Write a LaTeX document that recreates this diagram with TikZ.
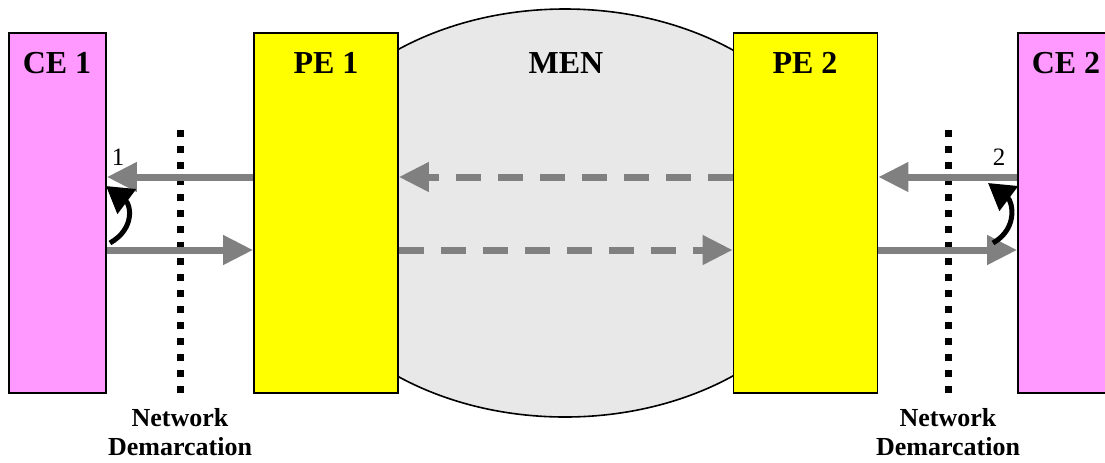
\documentclass[tikz,border=0pt]{standalone}
\usepackage{fontspec}
\setmainfont{Liberation Serif}
\usetikzlibrary{arrows.meta,shapes.geometric}
\definecolor{cepink}{HTML}{FF99FF}
\definecolor{peyellow}{HTML}{FFFF00}
\definecolor{mengray}{HTML}{E8E8E8}
\definecolor{flowgray}{HTML}{808080}
\begin{document}
\begin{tikzpicture}[x=0.5pt,y=-0.5pt,
		cebox/.style={draw,line width=0.8pt,fill=cepink,minimum width=48.5pt,minimum height=180pt,inner sep=0pt},
		pebox/.style={draw,line width=0.8pt,fill=peyellow,minimum width=72pt,minimum height=180pt,inner sep=0pt},
		title/.style={font=\fontsize{16}{19}\selectfont\bfseries,inner sep=0pt},
		demlabel/.style={font=\fontsize{13}{14.5}\selectfont\bfseries,align=center,inner sep=0pt},
		numlabel/.style={font=\fontsize{12.5}{14}\selectfont,inner sep=0pt},
		flow/.style={draw=flowgray,line width=3.5pt,-{Triangle[length=15pt,width=14pt,color=flowgray]}},
		dflow/.style={flow,dash pattern=on 12.5pt off 8.5pt},
		turn/.style={draw=black,line width=2.5pt,-{Triangle[length=13pt,width=15pt]}},
		demline/.style={line width=3.5pt,dash pattern=on 3.5pt off 4.5pt}]
	\clip (0,0) rectangle (1105,462);
	\useasboundingbox (0,0) rectangle (1105,462);
	% cloud
	\node[draw,line width=0.8pt,fill=mengray,ellipse,minimum width=279pt,minimum height=204pt,inner sep=0pt] (men) at (565,213) {};
	% boxes
	\node[cebox] (ce1) at (57.5,213) {};
	\node[pebox] (pe1) at (326,213) {};
	\node[pebox] (pe2) at (805.5,213) {};
	\node[cebox] (ce2) at (1066.5,213) {};
	\node[title] (ce1t) at (57,63) {CE 1};
	\node[title] (pe1t) at (326,63) {PE 1};
	\node[title] (ment) at (566,63) {MEN};
	\node[title] (pe2t) at (805,63) {PE 2};
	\node[title] (ce2t) at (1066,63) {CE 2};
	% rows of the flows
	\coordinate (up) at (0,177);
	\coordinate (dn) at (0,250);
	% demarcation
	\coordinate (dm1a) at (180,130);
	\coordinate (dm1b) at (180,393);
	\coordinate (dm2a) at (948,130);
	\coordinate (dm2b) at (948,393);
	\draw[demline] (dm1a) -- (dm1b);
	\draw[demline] (dm2a) -- (dm2b);
	\node[demlabel] (dm1) at (180,432) {Network\\Demarcation};
	\node[demlabel] (dm2) at (948,432) {Network\\Demarcation};
	% flows
	\draw[flow] (pe1.west |- up) -- (ce1.east |- up);
	\draw[flow] (ce1.east |- dn) -- (pe1.west |- dn);
	\draw[dflow] (pe2.west |- up) -- (pe1.east |- up);
	\draw[dflow] (pe1.east |- dn) -- (pe2.west |- dn);
	\draw[flow] (ce2.west |- up) -- (pe2.east |- up);
	\draw[flow] (pe2.east |- dn) -- (ce2.west |- dn);
	% loop backs
	\coordinate (lb1a) at (110,243);
	\coordinate (lb1b) at (106,186);
	\coordinate (lb2a) at (993,243);
	\coordinate (lb2b) at (988,183);
	\draw[turn] (lb1a) .. controls (136,228) and (130,204) .. (lb1b);
	\draw[turn] (lb2a) .. controls (1019,228) and (1012,201) .. (lb2b);
	\node[numlabel] (n1) at (118,157) {1};
	\node[numlabel] (n2) at (999,157) {2};
\end{tikzpicture}
\end{document}
